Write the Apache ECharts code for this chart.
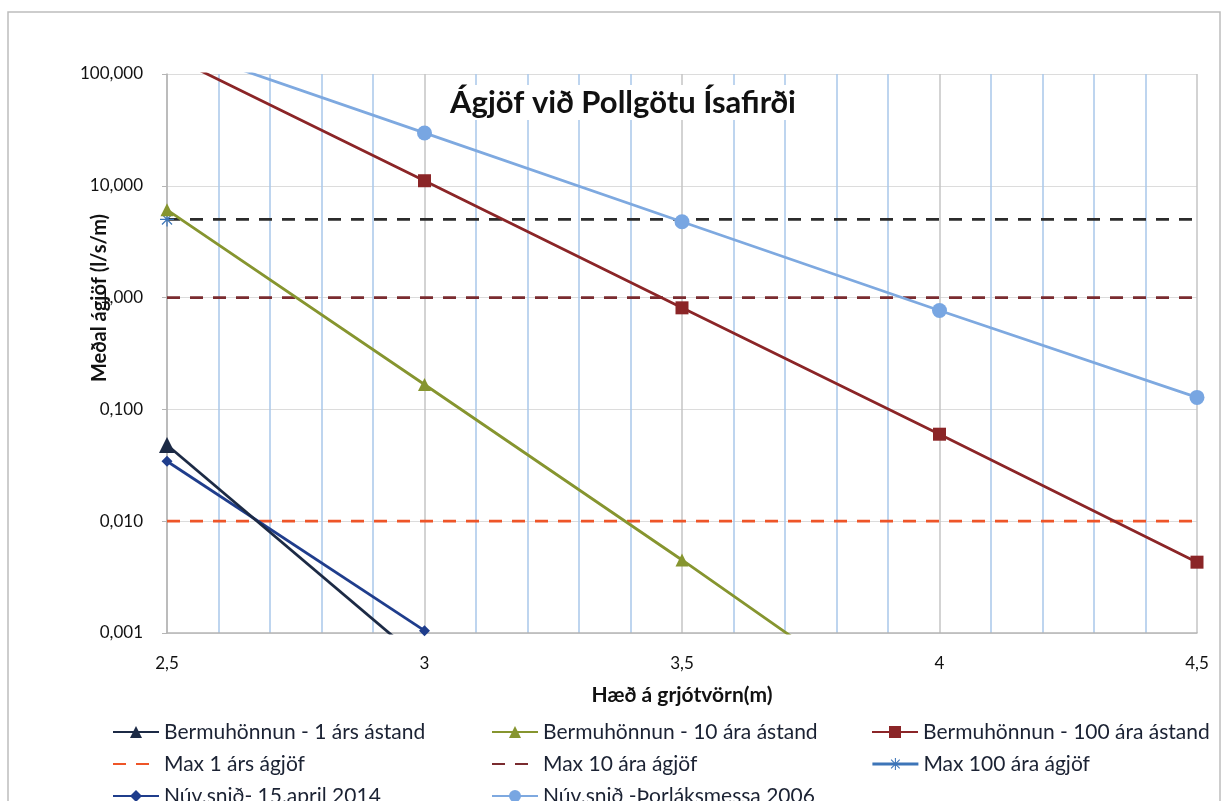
<!DOCTYPE html>
<html><head><meta charset="utf-8">
<script src="https://cdn.jsdelivr.net/npm/echarts@6/dist/echarts.min.js"></script>
<style>html,body{margin:0;padding:0;background:#fff}#c{width:1225px;height:801px}</style>
</head><body><div id="c"></div>
<script>
const xTicks = [2.5, 3, 3.5, 4, 4.5];
const berm1X = [2.5, 3];
const berm1Y = [0.048, 0.00054];
const berm10X = [2.5, 3, 3.5, 4];
const berm10Y = [6.1, 0.167, 0.0045, 0.00011];
const berm100X = [2.5, 3, 3.5, 4, 4.5];
const berm100Y = [150, 11.1, 0.81, 0.060, 0.0043];
const max1Y = 0.01;
const max10Y = 1.0;
const max100Y = 5.0;
const nuv2014X = [2.5, 3];
const nuv2014Y = [0.0344, 0.00105];
const nuv2006X = [2.5, 3, 3.5, 4, 4.5];
const nuv2006Y = [185, 29.7, 4.77, 0.766, 0.128];

const pair = (xs, ys) => xs.map((x, i) => [x, ys[i]]);
const flat = (v) => [[xTicks[0], v], [xTicks[xTicks.length - 1], v]];
const F = 'Lato, "Noto Sans", sans-serif';
const asterisk = 'path://M-0.8,-9 L0.8,-9 L0.8,9 L-0.8,9 Z M-9,-0.8 L9,-0.8 L9,0.8 L-9,0.8 Z M-7,-5.9 L-5.9,-7 L7,5.9 L5.9,7 Z M5.9,-7 L7,-5.9 L-5.9,7 L-7,5.9 Z';

const names = {
  b1: 'Bermuhönnun - 1 árs ástand',
  b10: 'Bermuhönnun - 10 ára ástand',
  b100: 'Bermuhönnun - 100 ára ástand',
  m1: 'Max 1 árs ágjöf',
  m10: 'Max 10 ára ágjöf',
  m100: 'Max 100 ára ágjöf',
  n14: 'Núv.snið- 15.april 2014',
  n06: 'Núv.snið -Þorláksmessa 2006'
};

const colX = [107, 486, 866];
const rowY = [716, 748, 780];
const mkLegend = (item, col, row) => ({
  left: colX[col], top: rowY[row], orient: 'horizontal',
  itemWidth: 46, itemHeight: 15,
  textStyle: { fontFamily: F, fontSize: 21, color: '#1b2233', lineHeight: 22 },
  data: [item]
});
const hideSym = { opacity: 0 };
const LW = 2.8;

const chart = echarts.init(document.getElementById('c'));
chart.setOption({
  animation: false,
  title: {
    text: 'Ágjöf við Pollgötu Ísafirði', left: 617, top: 85, textAlign: 'center',
    backgroundColor: '#fff', padding: [2, 6],
    textStyle: { fontFamily: F, fontSize: 31, fontWeight: 'bold', color: '#111' }
  },
  graphic: [
    { type: 'rect', shape: { x: 8, y: 12, width: 1212, height: 800 }, style: { fill: 'none', stroke: '#bdbdbd', lineWidth: 1.5 }, silent: true },
    { type: 'text', x: 100, y: 298, rotation: Math.PI / 2,
      style: { text: 'Meðal ágjöf (l/s/m)', fontFamily: F, fontSize: 20, fontWeight: 'bold', fill: '#111', align: 'center', verticalAlign: 'middle' } }
  ],
  legend: [
    mkLegend(names.b1, 0, 0),
    mkLegend({ name: names.m1, itemStyle: hideSym }, 0, 1),
    mkLegend(names.n14, 0, 2),
    mkLegend(names.b10, 1, 0),
    mkLegend({ name: names.m10, itemStyle: hideSym }, 1, 1),
    mkLegend(names.n06, 1, 2),
    mkLegend(names.b100, 2, 0),
    mkLegend({ name: names.m100, lineStyle: { color: '#3d75b8', type: 'solid', width: LW } }, 2, 1)
  ],
  grid: { left: 167, right: 28, top: 74, bottom: 168 },
  xAxis: {
    type: 'value', min: 2.5, max: 4.5, interval: 0.5,
    name: 'Hæð á grjótvörn(m)', nameLocation: 'middle', nameGap: 52,
    nameTextStyle: { fontFamily: F, fontSize: 21, fontWeight: 'bold', color: '#111' },
    axisLine: { show: true, lineStyle: { color: '#b5b5b5', width: 1.5 } },
    axisTick: { show: false },
    axisLabel: { margin: 22, fontFamily: F, fontSize: 17, color: '#111',
      formatter: v => String(v).replace('.', ',') },
    splitLine: { show: true, lineStyle: { color: '#c4c4c4', width: 1.5 } },
    minorTick: { show: false, splitNumber: 5 },
    minorSplitLine: { show: true, lineStyle: { color: '#a9c8ea', width: 1.5 } }
  },
  yAxis: {
    type: 'log', logBase: 10, min: 0.001, max: 100,
    axisLine: { show: true, lineStyle: { color: '#b5b5b5', width: 1.5 } },
    axisTick: { show: true, length: 5, lineStyle: { color: '#b5b5b5' } },
    axisLabel: { margin: 24, fontFamily: F, fontSize: 17, color: '#111',
      formatter: v => Number(v).toFixed(3).replace('.', ',') },
    splitLine: { show: true, lineStyle: { color: '#dcdcdc', width: 1.2 } }
  },
  series: [
    { name: names.m1, type: 'line', data: flat(max1Y), symbol: 'none',
      lineStyle: { color: '#ee5528', width: LW, type: [13, 10] }, itemStyle: { color: '#ee5528' } },
    { name: names.m10, type: 'line', data: flat(max10Y), symbol: 'none',
      lineStyle: { color: '#7a2b2f', width: LW, type: [13, 10] }, itemStyle: { color: '#7a2b2f' } },
    { name: names.m100, type: 'line',
      data: [{ value: [xTicks[0], max100Y] }, { value: [xTicks[xTicks.length - 1], max100Y], symbol: 'none' }],
      symbol: asterisk, symbolSize: 14, showAllSymbol: true,
      lineStyle: { color: '#2b2b2b', width: LW, type: [13, 10] }, itemStyle: { color: '#3d75b8' } },
    { name: names.n06, type: 'line', data: pair(nuv2006X, nuv2006Y), symbol: 'circle', symbolSize: 15,
      lineStyle: { color: '#7ea9e0', width: LW }, itemStyle: { color: '#78a6e2' } },
    { name: names.b100, type: 'line', data: pair(berm100X, berm100Y), symbol: 'rect', symbolSize: 13,
      lineStyle: { color: '#8b2527', width: LW }, itemStyle: { color: '#8b2527' } },
    { name: names.b10, type: 'line', data: pair(berm10X, berm10Y), symbol: 'triangle', symbolSize: 13,
      lineStyle: { color: '#86952f', width: LW }, itemStyle: { color: '#86952f' } },
    { name: names.n14, type: 'line', data: pair(nuv2014X, nuv2014Y), symbol: 'diamond', symbolSize: 11,
      lineStyle: { color: '#1f3d8c', width: LW }, itemStyle: { color: '#1f3d8c' } },
    { name: names.b1, type: 'line', data: pair(berm1X, berm1Y), symbol: 'triangle', symbolSize: 16,
      lineStyle: { color: '#1c2a45', width: LW }, itemStyle: { color: '#1c2a45' } }
  ]
});
</script></body></html>
